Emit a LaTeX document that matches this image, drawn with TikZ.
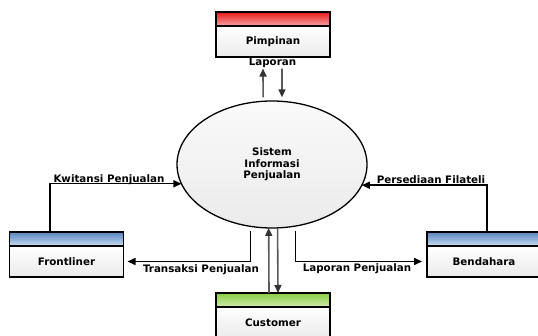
\documentclass[tikz,border=0pt]{standalone}
\usepackage{fontspec}
\setmainfont{DejaVu Sans}
\usetikzlibrary{arrows.meta,shapes.geometric}

\definecolor{redtop}{RGB}{232,24,24}
\definecolor{redbot}{RGB}{246,164,164}
\definecolor{bluetop}{RGB}{88,132,190}
\definecolor{bluebot}{RGB}{202,220,242}
\definecolor{greentop}{RGB}{138,204,70}
\definecolor{greenbot}{RGB}{206,236,172}
\definecolor{flowgray}{RGB}{90,90,90}

\begin{document}
\begin{tikzpicture}[x=1pt,y=-1pt,
  txt/.style={font=\bfseries\fontsize{10.3}{11.5}\selectfont},
  lbl/.style={txt, inner sep=1pt},
  entityhead/.style={draw, line width=1.3pt, minimum width=114pt,
    minimum height=14pt, inner sep=0pt, outer sep=0pt},
  entitybody/.style={draw, line width=1.3pt, minimum width=114pt,
    minimum height=31pt, inner sep=0pt, outer sep=0pt,
    top color=white, bottom color=black!8, txt},
  process/.style={ellipse, draw, line width=1.3pt, minimum width=190pt,
    minimum height=127pt, inner sep=0pt, outer sep=0pt,
    top color=black!2, bottom color=black!8, txt, align=center},
  flow/.style={line width=1.5pt, -{Triangle[length=8pt,width=7pt]}},
  grayflow/.style={line width=1.6pt, draw=flowgray,
    -{Triangle[length=8pt,width=7pt,color=black!80]}}]

\path[use as bounding box, clip] (0,0) rectangle (538,336);

% central process
\node[process] (sys) at (272,164.5) {Sistem\\Informasi\\Penjualan};

% external entities: shaded header strip above a labelled body
\node[entityhead, top color=redtop, bottom color=redbot] (pimh) at (273,19) {};
\node[entitybody] (pim) at (273,41.5) {Pimpinan};

\node[entityhead, top color=bluetop, bottom color=bluebot] (flh) at (66.5,239) {};
\node[entitybody] (fl) at (66.5,261.5) {Frontliner};

\node[entityhead, top color=bluetop, bottom color=bluebot] (benh) at (484,239) {};
\node[entitybody] (ben) at (484,261.5) {Bendahara};

\node[entityhead, top color=greentop, bottom color=greenbot] (cush) at (273,300) {};
\node[entitybody] (cus) at (273,322.5) {Customer};

% flow labels
\node[lbl] (lap) at (272.5,62.5) {Laporan};
\node[lbl] (kwl) at (109,179.5) {Kwitansi Penjualan};
\node[lbl] (psl) at (431,179.5) {Persediaan Filateli};
\node[lbl] (trl) at (201,269.5) {Transaksi Penjualan};
\node[lbl] (lpl) at (357,269) {Laporan Penjualan};

% Pimpinan flows
\draw[grayflow, shorten <=4pt] (sys.98) -- ([xshift=-9.5pt]lap.south);
\draw[grayflow, shorten >=4pt] ([xshift=9.5pt]lap.south) -- (sys.81);

% Customer flows
\draw[grayflow] ([xshift=-4pt]cush.north) -- (sys.267.3);
\draw[grayflow] (sys.275.4) -- ([xshift=5pt]cush.north);

% Frontliner flows
\draw[flow] ([xshift=-16.5pt]flh.north) |- (sys.192.85);
\draw[flow, shorten <=5pt] (sys.251.3) |- ([xshift=4pt]fl.east);

% Bendahara flows
\draw[flow] ([xshift=3pt]benh.north) |- (sys.347.15);
\draw[flow, shorten <=5pt] (sys.291.3) |- ([xshift=-5pt]ben.west);

\end{tikzpicture}
\end{document}
